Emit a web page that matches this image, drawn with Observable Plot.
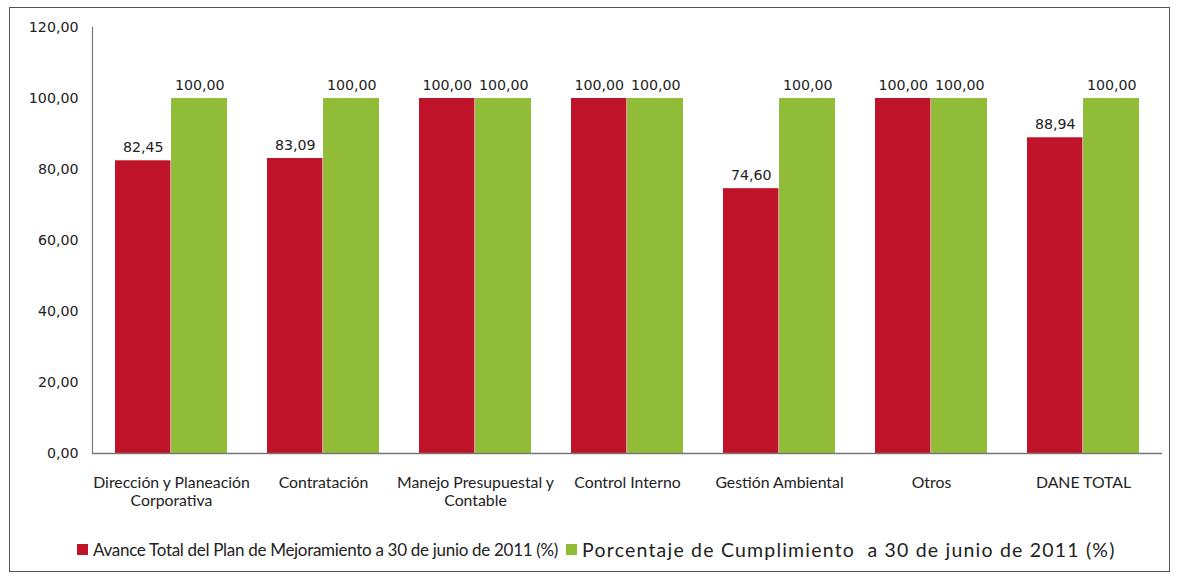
<!DOCTYPE html>
<html>
<head>
<meta charset="utf-8">
<script src="https://cdn.jsdelivr.net/npm/d3@7"></script>
<script src="https://cdn.jsdelivr.net/npm/@observablehq/plot@0.6"></script>
<style>
  html, body { margin: 0; padding: 0; background: #fff; }
  #frame {
    position: absolute; left: 9px; top: 7px; width: 1161px; height: 565px;
    border: 1.5px solid #555; box-sizing: border-box; background: #fff;
  }
  #legend {
    position: absolute; left: 67px; top: 530px; display: flex; align-items: center;
    font-family: Lato, "Open Sans", sans-serif; color: #222; white-space: pre;
  }
  .sw { display: inline-block; width: 11px; height: 11px; margin-right: 5px; }
  .item { display: flex; align-items: center; margin-right: 8px; }
  .t0 { font-size: 17px; letter-spacing: -0.3px; }
  .t1 { font-size: 19.5px; letter-spacing: 1.2px; }
</style>
</head>
<body>
<div id="frame">
  <div id="chart"></div>
  <div id="legend"></div>
</div>
<script>
const categories = ["Dirección y Planeación Corporativa", "Contratación", "Manejo Presupuestal y Contable", "Control Interno", "Gestión Ambiental", "Otros", "DANE TOTAL"];
const categoryLabels = ["Dirección y Planeación\nCorporativa", "Contratación", "Manejo Presupuestal y\nContable", "Control Interno", "Gestión Ambiental", "Otros", "DANE TOTAL"];
const avance = [82.45, 83.09, 100.00, 100.00, 74.60, 100.00, 88.94];
const cumplimiento = [100.00, 100.00, 100.00, 100.00, 100.00, 100.00, 100.00];
const seriesNames = ["Avance Total del Plan de Mejoramiento a 30 de junio de 2011 (%)", "Porcentaje de Cumplimiento  a 30 de junio de 2011 (%)"];
const seriesColors = ["#bf1329", "#90bc38"];
const yTicks = [0, 20, 40, 60, 80, 100, 120];

const fmt = d => d.toFixed(2).replace(".", ",");
const labelOf = new Map(categories.map((c, i) => [c, categoryLabels[i]]));

const rows = [];
categories.forEach((c, i) => {
  rows.push({cat: c, series: seriesNames[0], value: avance[i]});
  rows.push({cat: c, series: seriesNames[1], value: cumplimiento[i]});
});
const redRows = rows.filter(d => d.series === seriesNames[0]);
const greenRows = rows.filter(d => d.series === seriesNames[1]);

const width = 1158, marginLeft = 82, marginRight = 6;
const padInner = 0.26;
const step = (width - marginLeft - marginRight) / categories.length;
const half = step * (1 - padInner) / 2;

const numFont = "DejaVu Sans, sans-serif";

const plot = Plot.plot({
  width,
  height: 520,
  marginLeft, marginRight,
  marginTop: 19,
  marginBottom: 75,
  style: {background: "transparent", color: "#222"},
  x: {domain: categories, paddingInner: padInner, paddingOuter: padInner / 2, label: null},
  y: {domain: [0, 120], label: null},
  color: {domain: seriesNames, range: seriesColors},
  marks: [
    Plot.barY(redRows, {x: "cat", y: "value", fill: "series", insetRight: half}),
    Plot.barY(greenRows, {x: "cat", y: "value", fill: "series", insetLeft: half - 0.5}),
    Plot.text(redRows, {x: "cat", y: "value", text: d => fmt(d.value), dx: -half / 2, dy: -13, fontSize: 14.2, fontFamily: numFont, fill: "#222"}),
    Plot.text(greenRows, {x: "cat", y: "value", text: d => fmt(d.value), dx: half / 2, dy: -13, fontSize: 14.2, fontFamily: numFont, fill: "#222"}),
    Plot.ruleY([0], {stroke: "#777", strokeWidth: 1.5}),
    Plot.frame({anchor: "left", stroke: "#777", strokeWidth: 1.2}),
    Plot.axisY({ticks: yTicks, tickFormat: fmt, tickSize: 0, tickPadding: 14, fontSize: 14.2, fontFamily: numFont, label: null}),
    Plot.axisX({tickSize: 0, tickPadding: 21, tickFormat: d => labelOf.get(d), fontSize: 15.8, fontFamily: "Lato, sans-serif", lineHeight: 1.16, label: null})
  ]
});
document.getElementById("chart").appendChild(plot);

const legend = document.getElementById("legend");
seriesNames.forEach((s, i) => {
  const it = document.createElement("div");
  it.className = "item";
  const sw = document.createElement("span");
  sw.className = "sw";
  sw.style.background = seriesColors[i];
  const t = document.createElement("span");
  t.className = "t" + i;
  t.textContent = s;
  it.appendChild(sw); it.appendChild(t);
  legend.appendChild(it);
});
</script>
</body>
</html>
